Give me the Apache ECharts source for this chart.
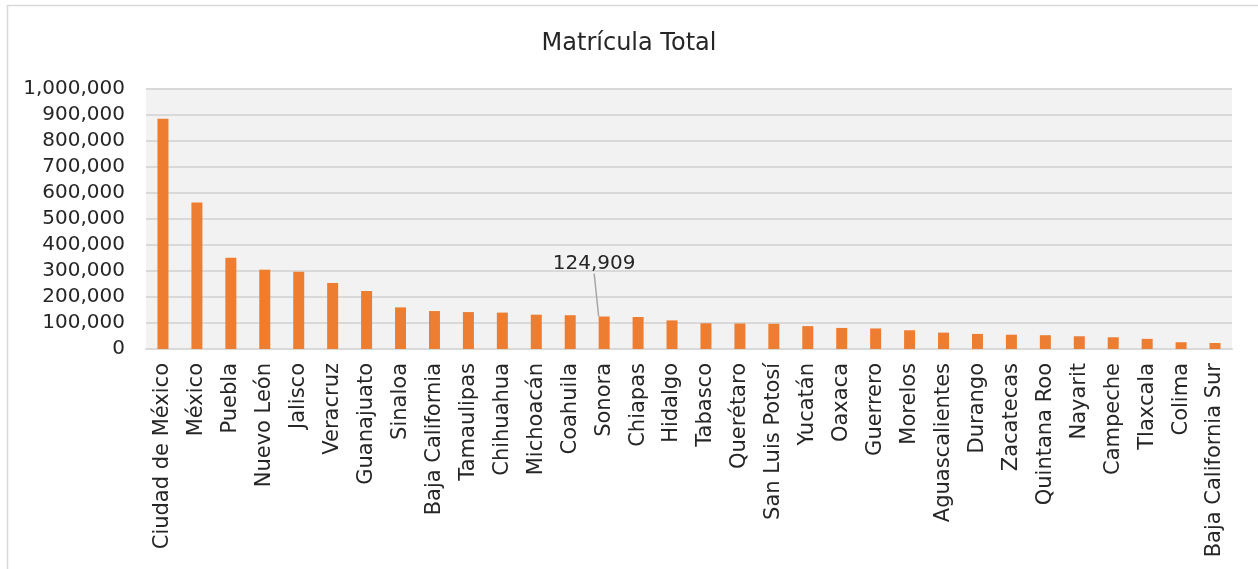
<!DOCTYPE html>
<html>
<head>
<meta charset="utf-8">
<script src="https://cdn.jsdelivr.net/npm/echarts@6/dist/echarts.min.js"></script>
<style>
  html, body { margin: 0; padding: 0; background: #fff; }
  #chart { width: 1258px; height: 569px; }
</style>
</head>
<body>
<div id="chart"></div>
<script>
const estados = ['Ciudad de México', 'México', 'Puebla', 'Nuevo León', 'Jalisco', 'Veracruz',
  'Guanajuato', 'Sinaloa', 'Baja California', 'Tamaulipas', 'Chihuahua', 'Michoacán',
  'Coahuila', 'Sonora', 'Chiapas', 'Hidalgo', 'Tabasco', 'Querétaro', 'San Luis Potosí',
  'Yucatán', 'Oaxaca', 'Guerrero', 'Morelos', 'Aguascalientes', 'Durango', 'Zacatecas',
  'Quintana Roo', 'Nayarit', 'Campeche', 'Tlaxcala', 'Colima', 'Baja California Sur'];

const matricula = [886000, 563000, 351000, 305000, 297000, 254000,
  223000, 160000, 146000, 142000, 140000, 132000,
  130000, 124909, 123000, 110000, 99000, 98000, 97000,
  88000, 81000, 79000, 72000, 63000, 58000, 55000,
  53000, 49000, 45000, 39000, 26000, 23000];

// solo Sonora lleva etiqueta
const conEtiqueta = 'Sonora';

const fuente = 'DejaVu Sans';
const myEchart = echarts.init(document.getElementById('chart'));

const option = {
  animation: false,
  title: {
    text: 'Matrícula Total',
    left: 'center',
    top: 27,
    textStyle: { fontFamily: fuente, fontSize: 24, fontWeight: 'normal', color: '#262626' }
  },
  graphic: [{
    type: 'rect',
    shape: { x: 7.5, y: 5.5, width: 1300, height: 620 },
    style: { fill: 'none', stroke: '#d9d9d9', lineWidth: 1.5 },
    silent: true
  }],
  grid: {
    left: 146, right: 26, top: 89, bottom: 220,
    show: true, backgroundColor: '#f2f2f2', borderWidth: 0
  },
  xAxis: {
    type: 'category',
    data: estados,
    axisTick: { show: false },
    axisLine: { lineStyle: { color: '#d9d9d9', width: 2 } },
    axisLabel: {
      interval: 0,
      rotate: 90,
      margin: 14,
      fontFamily: fuente,
      fontSize: 21,
      color: '#262626'
    }
  },
  yAxis: {
    type: 'value',
    min: 0,
    max: 1000000,
    interval: 100000,
    axisLine: { show: false },
    axisTick: { show: false },
    splitLine: { lineStyle: { color: '#d9d9d9', width: 2 } },
    axisLabel: {
      margin: 21,
      fontFamily: fuente,
      fontSize: 20,
      color: '#262626',
      formatter: v => v.toLocaleString('en-US')
    }
  },
  series: [{
    type: 'bar',
    barWidth: 11,
    itemStyle: { color: '#ed7d31' },
    data: matricula.map((v, i) => estados[i] === conEtiqueta ? {
      value: v,
      label: {
        show: true,
        position: 'top',
        fontFamily: fuente,
        fontSize: 20,
        color: '#262626',
        formatter: p => p.value.toLocaleString('en-US')
      },
      labelLine: { show: true, lineStyle: { color: '#a6a6a6', width: 1.5 } }
    } : v),
    labelLayout: p => p.dataIndex === estados.indexOf(conEtiqueta) ? { dx: -10, dy: -38 } : {}
  }]
};
myEchart.setOption(option);
</script>
</body>
</html>
